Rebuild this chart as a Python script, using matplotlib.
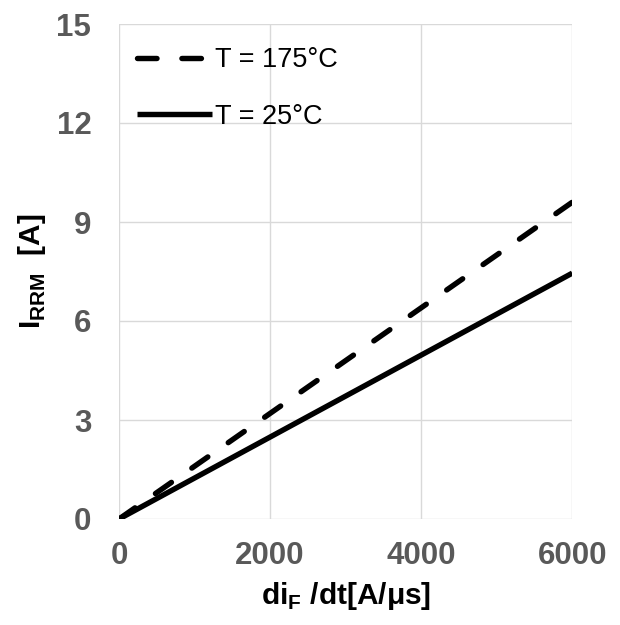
import matplotlib.pyplot as plt

plt.rcParams['font.family'] = ['Liberation Sans', 'DejaVu Sans']
plt.rcParams['mathtext.fontset'] = 'custom'
plt.rcParams['mathtext.rm'] = 'Liberation Sans:bold'
plt.rcParams['mathtext.bf'] = 'Liberation Sans:bold'

# di/dt [A/us] vs reverse recovery current [A]
didt = [0, 6000]
irrm_175 = [0, 9.6]
irrm_25 = [0, 7.45]

x_ticks = [0, 2000, 4000, 6000]
y_ticks = [0, 3, 6, 9, 12, 15]

fig = plt.figure(figsize=(6.2, 6.25), dpi=100)
ax = fig.add_axes([0.192, 0.1696, 0.731, 0.792])

ax.plot(didt, irrm_175, color='black', lw=3.9, linestyle=(0, (3.6, 4.6)),
        dash_capstyle='round', label='T = 175°C')
ax.plot(didt, irrm_25, color='black', lw=3.9, solid_capstyle='butt',
        label='T = 25°C')

ax.set_xlim(0, 6000)
ax.set_ylim(0, 15)
ax.set_xticks(x_ticks)
ax.set_yticks(y_ticks)
ax.grid(True, color='#d9d9d9', lw=1)
ax.set_axisbelow(True)
for s in ax.spines.values():
    s.set_visible(False)
ax.tick_params(length=0, labelsize=22.5, labelcolor='#595959')
ax.tick_params(axis='y', pad=20)
ax.tick_params(axis='x', pad=16)
for lab in ax.get_xticklabels() + ax.get_yticklabels():
    lab.set_fontweight('bold')

ax.set_xlabel('di$_\\mathbf{F}$ /dt[A/μs]', fontsize=21.5, fontweight='bold', labelpad=6)
ax.set_ylabel('I$_\\mathbf{RRM}$  [A]', fontsize=21.5, fontweight='bold', labelpad=6)

ax.legend(loc='upper left', bbox_to_anchor=(0, 0.99), frameon=False,
          fontsize=19.5, handlelength=2.75, handletextpad=0.12,
          labelspacing=1.12, borderaxespad=0.4, borderpad=0.28)

fig.savefig('out.png', dpi=100)
